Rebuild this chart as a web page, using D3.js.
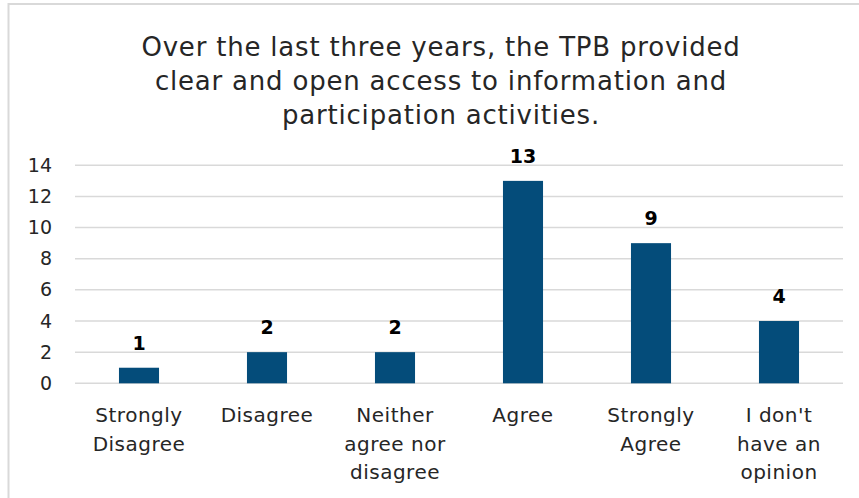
<!DOCTYPE html>
<html>
<head>
<meta charset="utf-8">
<script src="https://cdn.jsdelivr.net/npm/d3@7"></script>
<style>
  body { margin: 0; background: #fff; }
  svg text { font-family: "DejaVu Sans", sans-serif; fill: #262626; }
</style>
</head>
<body>
<div class="chart"></div>
<script>
// chart data
var categories = [
  ['Strongly', 'Disagree'],
  ['Disagree'],
  ['Neither', 'agree nor', 'disagree'],
  ['Agree'],
  ['Strongly', 'Agree'],
  ["I don't", 'have an', 'opinion']
];
var counts = [1, 2, 2, 13, 9, 4];
var yTicks = [0, 2, 4, 6, 8, 10, 12, 14];
var titleLines = [
  'Over the last three years, the TPB provided',
  'clear and open access to information and',
  'participation activities.'
];

var w = 859
  , h = 498
  , plotLeft = 75
  , plotRight = 843
  , plotTop = 165.3
  , plotBottom = 383.3
  , barColor = '#044c7a'
  , gridColor = '#d9d9d9';

var svg = d3.select('.chart')
            .append('svg')
            .attr('width', w)
            .attr('height', h);

// outer frame (only top/left edges show in the picture)
svg.append('rect')
   .attr('x', 8.5)
   .attr('y', 4)
   .attr('width', w + 10)
   .attr('height', h + 10)
   .attr('fill', 'none')
   .attr('stroke', gridColor)
   .attr('stroke-width', 2);

svg.selectAll('text.title')
   .data(titleLines)
   .enter()
   .append('text')
   .attr('class', 'title')
   .attr('x', 441)
   .attr('y', function (d, i) { return 56 + i * 34; })
   .attr('text-anchor', 'middle')
   .style('font-size', '26px')
   .style('letter-spacing', '0.8px')
   .text(function (d) { return d; });

var x = d3.scaleBand()
          .domain(d3.range(categories.length))
          .range([plotLeft, plotRight])
          .paddingInner(0.687)
          .paddingOuter(0.3435);

var y = d3.scaleLinear()
          .domain([0, 14])
          .range([plotBottom, plotTop]);

// gridlines
svg.selectAll('line.grid')
   .data(yTicks)
   .enter()
   .append('line')
   .attr('class', 'grid')
   .attr('x1', plotLeft)
   .attr('x2', plotRight)
   .attr('y1', function (d) { return y(d); })
   .attr('y2', function (d) { return y(d); })
   .attr('stroke', gridColor)
   .attr('stroke-width', 1.5);

var yAxis = d3.axisLeft(y)
              .tickValues(yTicks)
              .tickSize(0)
              .tickPadding(0);

var yG = svg.append('g')
            .attr('transform', 'translate(52,0)')
            .call(yAxis);
yG.select('.domain').remove();
yG.selectAll('text')
  .style('font-size', '19px')
  .style('font-family', '"DejaVu Sans", sans-serif')
  .attr('fill', '#262626');

svg.selectAll('rect.bar')
   .data(counts)
   .enter()
   .append('rect')
   .attr('class', 'bar')
   .attr('x', function (d, i) { return x(i); })
   .attr('y', function (d) { return y(d); })
   .attr('width', x.bandwidth())
   .attr('height', function (d) { return plotBottom - y(d); })
   .attr('fill', barColor);

svg.selectAll('text.value')
   .data(counts)
   .enter()
   .append('text')
   .attr('class', 'value')
   .attr('x', function (d, i) { return x(i) + x.bandwidth() / 2; })
   .attr('y', function (d) { return y(d) - 18; })
   .attr('text-anchor', 'middle')
   .style('font-size', '19px')
   .style('font-weight', 'bold')
   .style('fill', '#000')
   .text(function (d) { return d; });

// category labels, one tspan per line
var labels = svg.selectAll('text.cat')
   .data(categories)
   .enter()
   .append('text')
   .attr('class', 'cat')
   .attr('text-anchor', 'middle')
   .style('font-size', '20px')
   .style('letter-spacing', '0.5px');

labels.selectAll('tspan')
      .data(function (d, i) {
        return d.map(function (s) { return { s: s, i: i }; });
      })
      .enter()
      .append('tspan')
      .attr('x', function (d) { return x(d.i) + x.bandwidth() / 2; })
      .attr('y', function (d, j) { return 422 + j * 28.5; })
      .text(function (d) { return d.s; });
</script>
</body>
</html>
